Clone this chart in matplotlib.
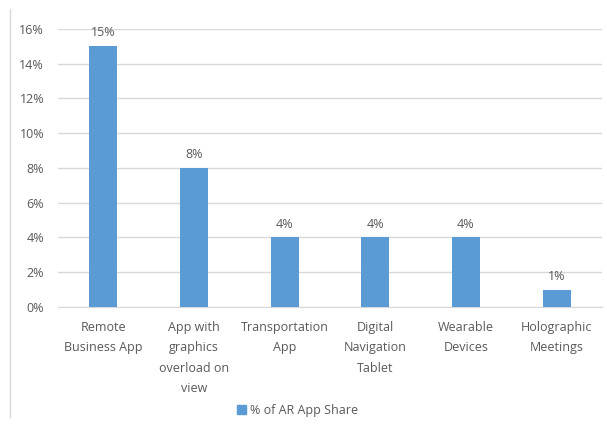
import matplotlib.pyplot as plt
from matplotlib.lines import Line2D
from matplotlib.ticker import FuncFormatter

plt.rcParams['font.family'] = ['Open Sans', 'DejaVu Sans']

# data
categories = ['Remote\nBusiness App', 'App with\ngraphics\noverload on\nview', 'Transportation\nApp',
              'Digital\nNavigation\nTablet', 'Wearable\nDevices', 'Holographic\nMeetings']
share = [15, 8, 4, 4, 4, 1]
series_name = '% of AR App Share'

bar_color = '#5B9BD5'
text_color = '#595959'

fig = plt.figure(figsize=(6.07, 4.30), dpi=100)
ax = fig.add_axes([0.0956, 0.286, 0.896, 0.647])

x = range(len(categories))
bars = ax.bar(x, share, width=0.31, color=bar_color, zorder=3, label=series_name)
for xi, v in zip(x, share):
    ax.annotate(f'{v}%', (xi, v), xytext=(0, 5), textcoords='offset points',
                ha='center', va='bottom', fontsize=9, color=text_color)

ax.set_xlim(-0.5, len(categories) - 0.5)
ax.set_ylim(0, 16)
ax.set_yticks(range(0, 17, 2))
ax.yaxis.set_major_formatter(FuncFormatter(lambda v, p: f'{int(v)}%'))
ax.set_xticks(list(x))
ax.set_xticklabels(categories, fontsize=9, color=text_color, linespacing=1.75)
ax.tick_params(axis='y', labelsize=9, labelcolor=text_color, length=0, pad=10)
ax.tick_params(axis='x', length=0, pad=10)
ax.grid(axis='y', color='#D9D9D9', linewidth=1, zorder=0)
for s in ['top', 'right', 'left']:
    ax.spines[s].set_visible(False)
ax.spines['bottom'].set_color('#D9D9D9')

# legend
fig.legend(handles=[plt.Rectangle((0, 0), 1, 1, color=bar_color)], labels=[series_name],
           loc='center', bbox_to_anchor=(0.49, 0.045), frameon=False, fontsize=9,
           handlelength=0.7, handleheight=0.7, handletextpad=0.3, labelcolor=text_color)

# left border of the chart area
fig.add_artist(Line2D([10 / 607, 10 / 607], [0.03, 0.98], color='#D9D9D9', linewidth=1))

fig.savefig('out.png', dpi=100)
